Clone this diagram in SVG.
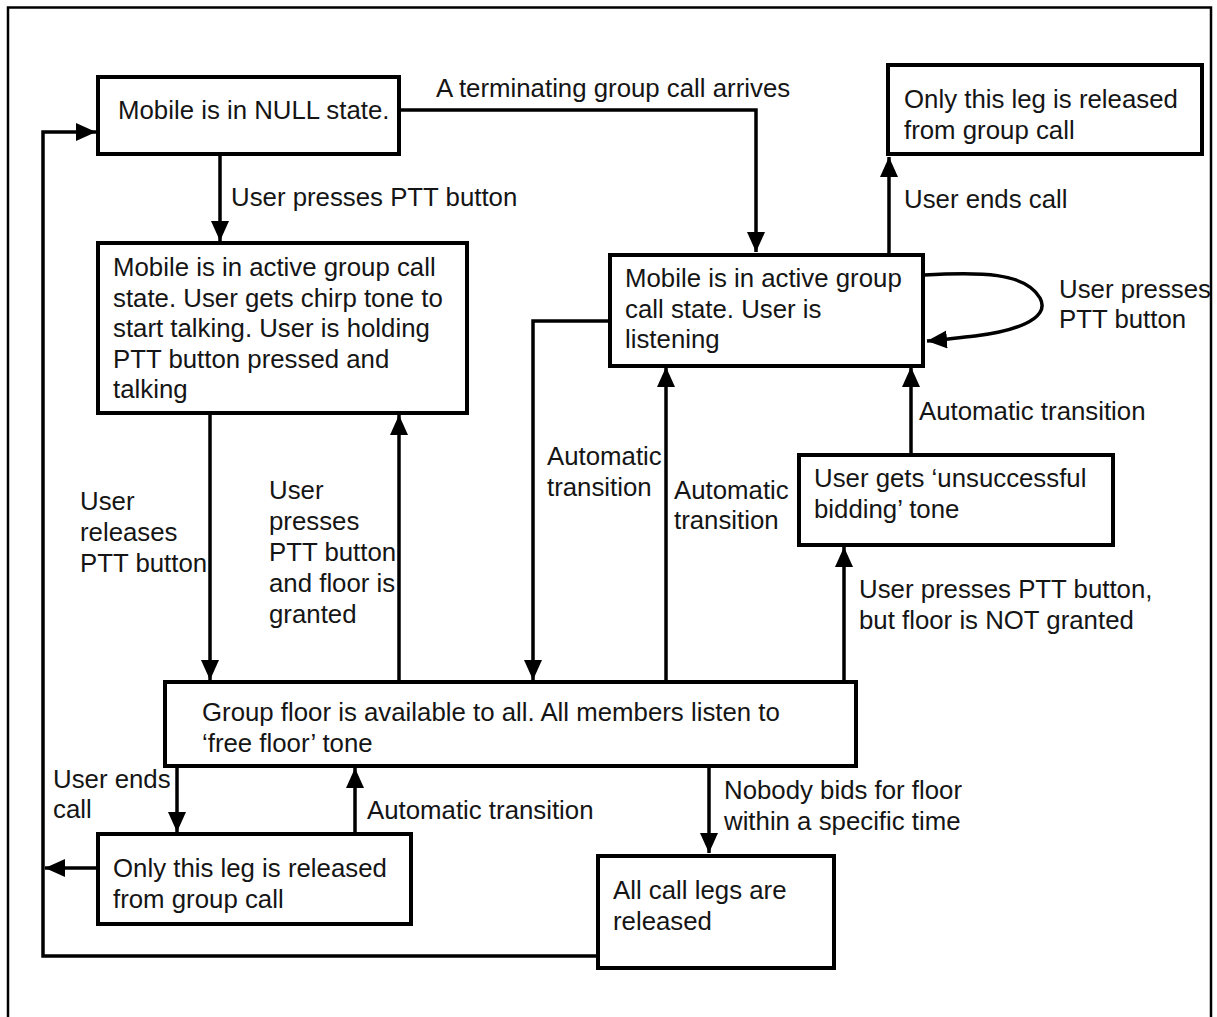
<svg xmlns="http://www.w3.org/2000/svg" width="1217" height="1017" viewBox="0 0 1217 1017">
  <style>
    .box { fill: #ffffff; stroke: #000; stroke-width: 4; }
    .wire { fill: none; stroke: #000; stroke-width: 3.5; }
    text { font-family: "Liberation Sans", Arial, sans-serif; font-size: 25.8px; fill: #151515; }
  </style>
  <defs>
    <marker id="head" markerUnits="userSpaceOnUse" markerWidth="22" markerHeight="20" refX="20" refY="9" orient="auto">
      <path d="M0,0 L20,9 L0,18 Z" fill="#000"/>
    </marker>
  </defs>

  <rect width="1217" height="1017" fill="#ffffff"/>
  <!-- frame -->
  <path d="M8,1017 V7.5 H1211 V1017" fill="none" stroke="#000" stroke-width="2.5"/>

  <!-- transitions -->
  <g id="connectors">
    <path class="wire" d="M220,154 V241" marker-end="url(#head)"/>
    <text x="231" y="206">User presses PTT button</text>

    <path class="wire" d="M400,110 H756 V252" marker-end="url(#head)"/>
    <text x="436" y="97">A terminating group call arrives</text>

    <path class="wire" d="M889,255 V157" marker-end="url(#head)"/>
    <text x="904" y="208">User ends call</text>

    <path class="wire" d="M924,275 C980,272 1025,272 1040,298 C1052,320 1010,332 975,336 C955,338 940,340 927,341" marker-end="url(#head)"/>
    <text x="1059" y="298">User presses</text>
    <text x="1059" y="328">PTT button</text>

    <path class="wire" d="M911,455 V367" marker-end="url(#head)"/>
    <text x="919" y="420">Automatic transition</text>

    <path class="wire" d="M844,682 V547" marker-end="url(#head)"/>
    <text x="859" y="598">User presses PTT button,</text>
    <text x="859" y="629">but floor is NOT granted</text>

    <path class="wire" d="M666,682 V367" marker-end="url(#head)"/>
    <text x="674" y="499">Automatic</text>
    <text x="674" y="529">transition</text>

    <path class="wire" d="M610,321 H533 V680" marker-end="url(#head)"/>
    <text x="547" y="465">Automatic</text>
    <text x="547" y="496">transition</text>

    <path class="wire" d="M210,413 V680" marker-end="url(#head)"/>
    <text x="80" y="510">User</text>
    <text x="80" y="541">releases</text>
    <text x="80" y="572">PTT button</text>

    <path class="wire" d="M399,682 V415" marker-end="url(#head)"/>
    <text x="269" y="499">User</text>
    <text x="269" y="530">presses</text>
    <text x="269" y="561">PTT button</text>
    <text x="269" y="592">and floor is</text>
    <text x="269" y="623">granted</text>

    <path class="wire" d="M177,766 V832" marker-end="url(#head)"/>
    <text x="53" y="788">User ends</text>
    <text x="53" y="818">call</text>

    <path class="wire" d="M355,833 V768" marker-end="url(#head)"/>
    <text x="367" y="819">Automatic transition</text>

    <path class="wire" d="M709,766 V853" marker-end="url(#head)"/>
    <text x="724" y="799">Nobody bids for floor</text>
    <text x="724" y="830">within a specific time</text>

    <path class="wire" d="M598,956 H43 V132 H96" marker-end="url(#head)"/>
    <path class="wire" d="M98,868 H45" marker-end="url(#head)"/>
  </g>

  <!-- states -->
  <g id="null-state">
    <rect class="box" x="98" y="77" width="301" height="77"/>
    <text x="118" y="119">Mobile is in NULL state.</text>
  </g>

  <g id="talking">
    <rect class="box" x="98" y="243" width="369" height="170"/>
    <text x="113" y="276">Mobile is in active group call</text>
    <text x="113" y="307">state. User gets chirp tone to</text>
    <text x="113" y="337">start talking. User is holding</text>
    <text x="113" y="368">PTT button pressed and</text>
    <text x="113" y="398">talking</text>
  </g>

  <g id="listening">
    <rect class="box" x="610" y="255" width="313" height="111"/>
    <text x="625" y="287">Mobile is in active group</text>
    <text x="625" y="318">call state. User is</text>
    <text x="625" y="348">listening</text>
  </g>

  <g id="leg-released-top">
    <rect class="box" x="888" y="65" width="314" height="89"/>
    <text x="904" y="108">Only this leg is released</text>
    <text x="904" y="139">from group call</text>
  </g>

  <g id="bid-failed">
    <rect class="box" x="799" y="455" width="314" height="90"/>
    <text x="814" y="487">User gets ‘unsuccessful</text>
    <text x="814" y="518">bidding’ tone</text>
  </g>

  <g id="free-floor">
    <rect class="box" x="165" y="682" width="691" height="84"/>
    <text x="202" y="721">Group floor is available to all. All members listen to</text>
    <text x="202" y="752">‘free floor’ tone</text>
  </g>

  <g id="leg-released-bottom">
    <rect class="box" x="98" y="834" width="313" height="90"/>
    <text x="113" y="877">Only this leg is released</text>
    <text x="113" y="908">from group call</text>
  </g>

  <g id="all-released">
    <rect class="box" x="598" y="856" width="236" height="112"/>
    <text x="613" y="899">All call legs are</text>
    <text x="613" y="930">released</text>
  </g>
</svg>
